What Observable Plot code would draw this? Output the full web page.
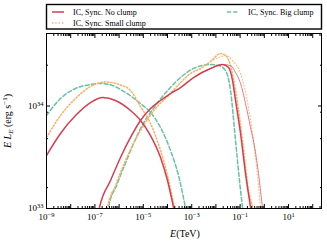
<!DOCTYPE html>
<html><head><meta charset="utf-8">
<script src="https://cdn.jsdelivr.net/npm/d3@7"></script>
<script src="https://cdn.jsdelivr.net/npm/@observablehq/plot@0.6"></script>
<style>
html,body{margin:0;padding:0;background:#fff;}
#chart{width:327px;height:246px;font-family:"Liberation Serif",serif;}
#chart svg{display:block;}
</style></head><body><div id="chart"></div>
<script>
// ---- data (log10 E [TeV], log10 L [erg/s]) ----
const syncNoE = [-9, -8.421, -7.802, -7.182, -6.686, -6.149, -5.529, -5.116, -4.702, -4.289, -4.0, -3.752, -3.65];
const syncNoL = [33.517, 33.732, 33.907, 34.034, 34.083, 34.054, 33.956, 33.859, 33.712, 33.498, 33.273, 33.01, 32.9];
const icNoE = [-6.9, -6.810, -6.355, -5.942, -5.529, -5.116, -4.702, -4.289, -3.876, -3.463, -2.926, -2.223, -1.727, -1.479, -1.314, -1.190, -0.983, -0.777, -0.570, -0.5];
const icNoL = [32.9, 33.01, 33.273, 33.498, 33.693, 33.859, 33.976, 34.054, 34.122, 34.180, 34.278, 34.366, 34.405, 34.376, 34.249, 34.054, 33.732, 33.341, 33.01, 32.9];
const icNo2E = [-2.926, -2.223, -1.727, -1.397, -1.190, -0.983, -0.777, -0.570, -0.364, -0.240, -0.074, 0.0];
const icNo2L = [34.278, 34.366, 34.405, 34.395, 34.327, 34.220, 34.024, 33.790, 33.546, 33.341, 33.01, 32.9];

const syncSmallE = [-9, -8.421, -7.802, -7.182, -6.562, -5.942, -5.529, -5.116, -4.702, -4.289, -4.0, -3.711, -3.6];
const syncSmallL = [33.693, 33.907, 34.073, 34.190, 34.234, 34.205, 34.151, 33.995, 33.829, 33.566, 33.322, 33.01, 32.9];
const icSmallE = [-6.55, -6.479, -6.149, -5.736, -5.116, -4.496, -4.0, -3.463, -3.050, -2.636, -2.223, -1.810, -1.562, -1.397, -1.190, -0.901, -0.653, -0.488, -0.42];
const icSmallL = [32.9, 33.01, 33.224, 33.468, 33.761, 33.976, 34.093, 34.229, 34.317, 34.366, 34.434, 34.512, 34.483, 34.395, 34.151, 33.663, 33.176, 33.01, 32.9];
const icSmall2E = [-2.223, -1.810, -1.603, -1.314, -0.983, -0.653, -0.364, -0.240, -0.157, -0.1];
const icSmall2L = [34.434, 34.480, 34.493, 34.444, 34.317, 33.985, 33.498, 33.224, 33.01, 32.9];

const syncBigE = [-9, -8.421, -7.802, -7.182, -6.769, -6.273, -5.736, -5.116, -4.702, -4.289, -3.876, -3.545, -3.256, -3.15];
const syncBigL = [33.907, 34.073, 34.171, 34.210, 34.220, 34.200, 34.132, 34.024, 33.937, 33.790, 33.566, 33.322, 33.01, 32.9];
const icBigE = [-6.5, -6.438, -6.107, -5.694, -5.116, -4.496, -4.0, -3.463, -2.926, -2.223, -1.893, -1.603, -1.397, -1.190, -0.983, -0.901, -0.85];
const icBigL = [32.9, 33.01, 33.224, 33.468, 33.780, 34.005, 34.151, 34.278, 34.366, 34.405, 34.395, 34.346, 34.151, 33.663, 33.176, 33.01, 32.9];

const legendLabels = ["IC, Sync. No clump", "IC, Sync. Small clump", "IC, Sync. Big clump"];
const xMajorExp = [-9, -8, -7, -6, -5, -4, -3, -2, -1, 0, 1, 2];
const xLabelExp = [-9, -7, -5, -3, -1, 1];
const yMajorExp = [33, 34];
const yMinorVals = [1.6e33, 4.8e33, 8.7e33, 2.5e34];
const xDomain = [1e-9, 230];
const yDomain = [1e33, 5.1e34];

// ---- build ----
const RED = "#d53e4f", ORANGE = "#fdae61", GREEN = "#66c2a5";
const toRows = (E, L) => E.map((e, i) => ({E: 10 ** e, L: 10 ** L[i]}));
const fmt = d => "10^" + Math.round(Math.log10(d));
const xMajor = xMajorExp.map(e => 10 ** e);
const xMinor = xMajorExp.flatMap(e => [2,3,4,5,6,7,8,9].map(k => k * 10 ** e)).filter(v => v < xDomain[1]);
const xLabels = xLabelExp.map(e => 10 ** e);
const yMajor = yMajorExp.map(e => 10 ** e);

const root = d3.select("#chart");
// legend
const lg = root.append("svg").attr("width", 327).attr("height", 31)
  .style("font-family", "Liberation Serif, serif").style("font-size", "8px");
lg.append("rect").attr("x", 46.5).attr("y", 4.5).attr("width", 275).attr("height", 24.5)
  .attr("fill", "white").attr("stroke", "black").attr("stroke-width", 1.4);
const entries = [
  {x: 52, y: 12, c: RED, dash: null, w: 1.5, t: legendLabels[0]},
  {x: 52, y: 23, c: ORANGE, dash: "1.3,2", w: 1.5, t: legendLabels[1]},
  {x: 227, y: 12, c: GREEN, dash: "4,2.3", w: 1.5, t: legendLabels[2]}
];
for (const e of entries) {
  lg.append("line").attr("x1", e.x).attr("x2", e.x + 12).attr("y1", e.y).attr("y2", e.y)
    .attr("stroke", e.c).attr("stroke-width", e.w).attr("stroke-dasharray", e.dash);
  lg.append("text").attr("x", e.x + 21).attr("y", e.y + 2.8).text(e.t);
}

const lineOpts = (c, w, dash, op = 1) => ({x: "E", y: "L", stroke: c, strokeWidth: w, strokeDasharray: dash, strokeOpacity: op, clip: true, curve: "monotone-x"});

const plot = Plot.plot({
  width: 327, height: 215,
  marginTop: 2, marginBottom: 38, marginLeft: 46, marginRight: 6,
  style: {fontFamily: "Liberation Serif, serif", fontSize: "9px", background: "white", color: "black", overflow: "visible"},
  x: {type: "log", domain: xDomain},
  y: {type: "log", domain: yDomain},
  marks: [
    Plot.line(toRows(syncBigE, syncBigL), lineOpts(GREEN, 1.5, "4,2.3")),
    Plot.line(toRows(icBigE, icBigL), lineOpts(GREEN, 1.5, "4,2.3")),
    Plot.line(toRows(syncSmallE, syncSmallL), lineOpts(ORANGE, 1.5, "1.3,2")),
    Plot.line(toRows(icSmallE, icSmallL), lineOpts(ORANGE, 1.5, "1.3,2")),
    Plot.line(toRows(icSmall2E, icSmall2L), lineOpts(ORANGE, 1.1, "1.1,2", 0.8)),
    Plot.line(toRows(icNo2E, icNo2L), lineOpts(RED, 0.9, null, 0.75)),
    Plot.line(toRows(syncNoE, syncNoL), lineOpts(RED, 1.5, null)),
    Plot.line(toRows(icNoE, icNoL), lineOpts(RED, 1.5, null)),
    Plot.axisX(xMajor, {anchor: "bottom", tickSize: -4, text: null, label: null}),
    Plot.axisX(xMinor, {anchor: "bottom", tickSize: -2, text: null, label: null}),
    Plot.axisX(xMajor, {anchor: "top", tickSize: -4, text: null, label: null}),
    Plot.axisX(xMinor, {anchor: "top", tickSize: -2, text: null, label: null}),
    Plot.axisX(xLabels, {anchor: "bottom", tickSize: 0, tickPadding: 5, tickFormat: fmt, label: null}),
    Plot.axisY(yMajor, {anchor: "left", tickSize: -4, text: null, label: null}),
    Plot.axisY(yMinorVals, {anchor: "left", tickSize: -2, text: null, label: null}),
    Plot.axisY(yMajor, {anchor: "right", tickSize: -4, text: null, label: null}),
    Plot.axisY(yMinorVals, {anchor: "right", tickSize: -2, text: null, label: null}),
    Plot.axisY(yMajor, {anchor: "left", tickSize: 0, tickPadding: 3, tickFormat: fmt, label: null}),
    Plot.frame({stroke: "black", strokeWidth: 1})
  ]
});
root.node().appendChild(plot);

const svg = d3.select(plot);
// turn "10^e" tick labels into base + raised exponent
svg.selectAll("text").each(function () {
  const t = d3.select(this);
  const s = t.text();
  if (!/^10\^/.test(s)) return;
  const exp = s.slice(3).replace("-", "−");
  t.text("10");
  t.append("tspan").attr("font-size", "6.5px").attr("dy", "-0.45em").text(exp);
});

const yl = svg.append("text").attr("transform", "translate(11,90) rotate(-90)")
  .attr("text-anchor", "middle").style("font-size", "10px").attr("fill", "black");
yl.append("tspan").attr("font-style", "italic").text("E L");
yl.append("tspan").attr("font-style", "italic").attr("font-size", "7px").attr("dy", 2).text("E");
yl.append("tspan").attr("dy", -2).text(" (erg s");
yl.append("tspan").attr("font-size", "7px").attr("dy", -4).text("−1");
yl.append("tspan").attr("dy", 4).text(")");

const xl = svg.append("text").attr("x", 185).attr("y", 206)
  .attr("text-anchor", "middle").style("font-size", "10px").attr("fill", "black");
xl.append("tspan").attr("font-style", "italic").text("E");
xl.append("tspan").text("(TeV)");
</script></body></html>
